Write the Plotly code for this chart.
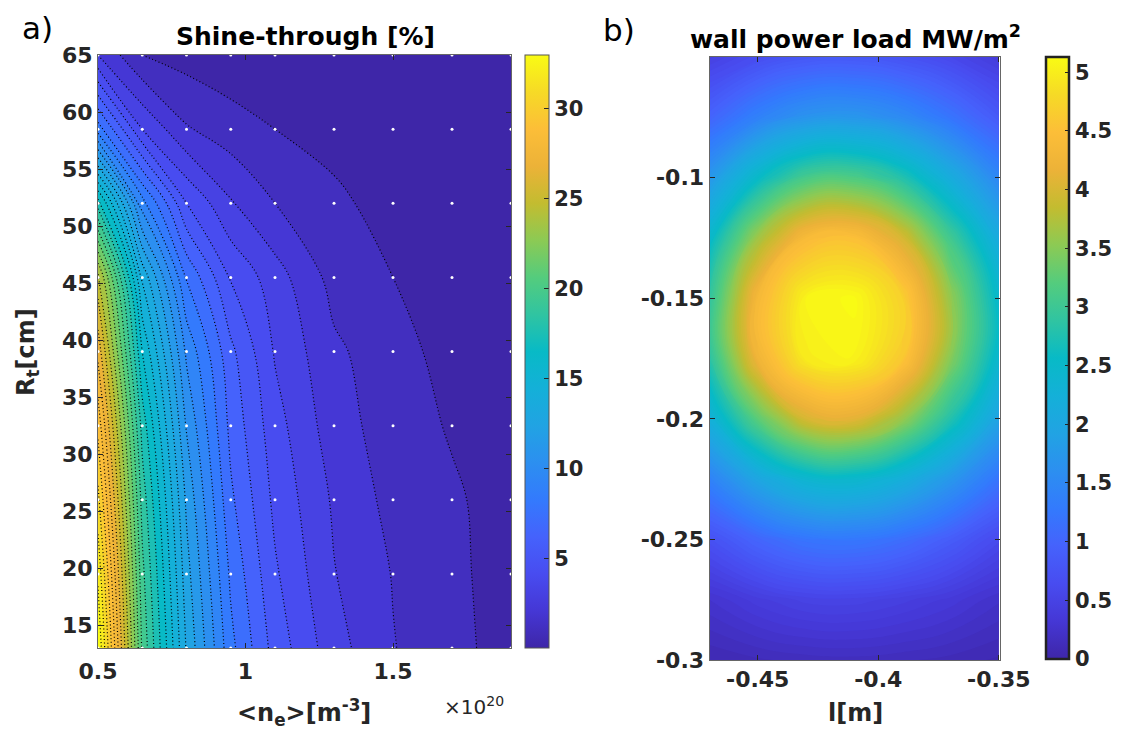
import plotly.graph_objects as go

# ---------------- data ----------------
N_E = [0.5, 0.65, 0.8, 0.95, 1.1, 1.3, 1.5, 1.7, 1.9]          # <n_e> [1e20 m^-3]
R_T = [13, 19.5, 26, 32.5, 39, 45.5, 52, 58.5, 65]               # R_t [cm]
SHINE = [  # rows follow R_T, columns follow N_E  (shine-through %)
    [33.0, 19.8, 12.9, 8.30, 5.60, 3.40, 2.05, 1.25, 0.65],
    [31.8, 19.3, 12.4, 7.80, 5.15, 3.05, 1.95, 1.20, 0.60],
    [30.3, 18.6, 11.8, 7.20, 4.75, 2.85, 1.67, 1.15, 0.55],
    [28.7, 17.6, 10.9, 6.70, 4.40, 2.45, 1.50, 0.90, 0.45],
    [26.7, 16.0, 9.80, 6.25, 3.90, 2.20, 1.37, 0.64, 0.35],
    [24.3, 13.8, 7.90, 4.90, 3.45, 1.63, 1.00, 0.50, 0.30],
    [17.5, 9.40, 5.00, 3.10, 2.00, 1.30, 0.45, 0.30, 0.25],
    [8.50, 4.00, 2.10, 1.45, 1.00, 0.50, 0.30, 0.25, 0.20],
    [3.00, 1.00, 0.60, 0.33, 0.25, 0.20, 0.18, 0.16, 0.15],
]
SHINE_TICKS = [5, 10, 15, 20, 25, 30]
NE_TICKS = [0.5, 1, 1.5]
NE_TICKTEXT = ["0.5", "1", "1.5"]
RT_TICKS = [15, 20, 25, 30, 35, 40, 45, 50, 55, 60, 65]

L_M = [-0.47, -0.45, -0.43, -0.41, -0.39, -0.37, -0.35]          # l [m]
Z_M = [-0.30, -0.275, -0.25, -0.225, -0.20, -0.175, -0.15, -0.125, -0.10, -0.075, -0.05]
LOAD = [  # rows follow Z_M, columns follow L_M  (MW/m^2)
    [0.10, 0.14, 0.17, 0.18, 0.16, 0.13, 0.09],
    [0.30, 0.43, 0.52, 0.53, 0.47, 0.38, 0.26],
    [0.73, 1.03, 1.24, 1.27, 1.14, 0.90, 0.62],
    [1.42, 2.00, 2.41, 2.47, 2.21, 1.75, 1.22],
    [2.25, 3.25, 4.00, 4.10, 3.60, 2.80, 1.95],
    [2.85, 4.25, 4.98, 5.06, 4.60, 3.50, 2.45],
    [2.90, 4.35, 5.05, 5.12, 4.70, 3.58, 2.50],
    [2.50, 3.65, 4.40, 4.50, 4.00, 3.05, 2.12],
    [1.75, 2.55, 3.10, 3.15, 2.80, 2.15, 1.50],
    [1.00, 1.41, 1.70, 1.74, 1.56, 1.23, 0.86],
    [0.48, 0.68, 0.82, 0.84, 0.75, 0.60, 0.41],
]
LOAD_TICKS = [0, 0.5, 1, 1.5, 2, 2.5, 3, 3.5, 4, 4.5, 5]
LOAD_TICKTEXT = ["0", "0.5", "1", "1.5", "2", "2.5", "3", "3.5", "4", "4.5", "5"]
L_TICKS = [-0.45, -0.4, -0.35]
L_TICKTEXT = ["-0.45", "-0.4", "-0.35"]
Z_TICKS = [-0.3, -0.25, -0.2, -0.15, -0.1]
Z_TICKTEXT = ["-0.3", "-0.25", "-0.2", "-0.15", "-0.1"]

# ---------------- style ----------------
PARULA = [
    [0.0, "rgb(62,38,168)"], [0.0625, "rgb(69,55,213)"], [0.125, "rgb(72,76,240)"],
    [0.1875, "rgb(69,98,252)"], [0.25, "rgb(51,122,253)"], [0.3125, "rgb(44,143,240)"],
    [0.375, "rgb(33,163,227)"], [0.4375, "rgb(20,176,216)"], [0.5, "rgb(8,186,198)"],
    [0.5625, "rgb(48,196,161)"], [0.625, "rgb(84,204,125)"], [0.6875, "rgb(140,202,84)"],
    [0.75, "rgb(195,188,48)"], [0.8125, "rgb(236,178,56)"], [0.875, "rgb(252,190,56)"],
    [0.9375, "rgb(246,218,38)"], [1.0, "rgb(249,251,20)"],
]
FONT = "DejaVu Sans"
TICKCOL = "#262626"
W, H = 1122, 733
OFF = 8  # the page body margin shifts the figure by this many pixels


def px(x):
    return (x - OFF) / W


def py(y):
    return 1 - (y - OFF) / H


fig = go.Figure()

fig.add_trace(go.Contour(
    x=N_E, y=R_T, z=SHINE, colorscale=PARULA, zmin=0, zmax=33, zauto=False,
    contours=dict(start=1, end=32, size=1, coloring="fill"),
    line=dict(color="black", width=1.2, dash="1px,2.5px"),
    xaxis="x", yaxis="y", showscale=False, hoverinfo="skip",
))

fig.add_trace(go.Scatter(
    x=[n for r in R_T for n in N_E], y=[r for r in R_T for n in N_E],
    mode="markers", marker=dict(color="white", size=3), xaxis="x", yaxis="y",
    showlegend=False, hoverinfo="skip",
))

# continuous colour bar for panel a)
fig.add_trace(go.Scatter(
    x=[-10], y=[-10], mode="markers", xaxis="x", yaxis="y", showlegend=False,
    hoverinfo="skip",
    marker=dict(size=1, opacity=0, color=[0], cmin=0, cmax=33, colorscale=PARULA,
                showscale=True,
                colorbar=dict(x=px(525), xanchor="left", y=py(648), yanchor="bottom",
                              len=(648 - 55) / H, lenmode="fraction", thickness=24,
                              thicknessmode="pixels", xpad=0, ypad=0,
                              outlinecolor="#555555", outlinewidth=1,
                              tickvals=SHINE_TICKS, ticks="inside", ticklen=5,
                              tickcolor="#262626",
                              tickfont=dict(family=FONT, size=21, color=TICKCOL,
                                            weight="bold"))),
))

fig.add_trace(go.Contour(
    x=L_M, y=Z_M, z=LOAD, colorscale=PARULA, zmin=0, zmax=5.13, zauto=False,
    contours=dict(start=0.05, end=5.1, size=0.05, coloring="fill"),
    line=dict(width=0, smoothing=1.3),
    xaxis="x2", yaxis="y2", showscale=False, hoverinfo="skip",
))

# continuous colour bar for panel b)
fig.add_trace(go.Scatter(
    x=[10], y=[10], mode="markers", xaxis="x2", yaxis="y2", showlegend=False,
    hoverinfo="skip",
    marker=dict(size=1, opacity=0, color=[0], cmin=0, cmax=5.13, colorscale=PARULA,
                showscale=True,
                colorbar=dict(x=px(1046), xanchor="left", y=py(659), yanchor="bottom",
                              len=(659 - 57) / H, lenmode="fraction", thickness=23,
                              thicknessmode="pixels", xpad=0, ypad=0,
                              outlinecolor="#222222", outlinewidth=2.5,
                              tickvals=LOAD_TICKS, ticktext=LOAD_TICKTEXT,
                              ticks="inside", ticklen=5, tickcolor="#222222",
                              tickfont=dict(family=FONT, size=21, color=TICKCOL,
                                            weight="bold"))),
))

axis_common = dict(showgrid=False, zeroline=False, showline=True, linecolor="#666666",
                   linewidth=1, mirror="ticks", ticks="inside", ticklen=5,
                   tickcolor="#262626", automargin=False,
                   tickfont=dict(family=FONT, size=22, color=TICKCOL, weight="bold"))

fig.update_layout(
    template="none",
    width=W, height=H, paper_bgcolor="white", plot_bgcolor="white",
    margin=dict(l=0, r=0, t=0, b=0, pad=0, autoexpand=False), showlegend=False,
    xaxis=dict(domain=[px(98), px(511)], range=[0.5, 1.9], anchor="y",
               tickvals=NE_TICKS, ticktext=NE_TICKTEXT, ticklabelstandoff=4,
               **axis_common),
    yaxis=dict(domain=[py(648), py(55)], range=[13, 65], anchor="x",
               tickvals=RT_TICKS, **axis_common),
    xaxis2=dict(domain=[px(709.5), px(1000)], range=[-0.47, -0.3495], anchor="y2",
                tickvals=L_TICKS, ticktext=L_TICKTEXT, **axis_common),
    yaxis2=dict(domain=[py(660), py(57)], range=[-0.3, -0.05], anchor="x2",
                tickvals=Z_TICKS, ticktext=Z_TICKTEXT, **axis_common),
)

ann = [
    dict(text="a)", x=px(37), y=py(28), font=dict(family=FONT, size=31, color="black")),
    dict(text="b)", x=px(619), y=py(30), font=dict(family=FONT, size=31, color="black")),
    dict(text="Shine-through [%]", x=px(305), y=py(36),
         font=dict(family=FONT, size=25, color="black", weight="bold")),
    dict(text="wall power load MW/m<sup>2</sup>", x=px(855), y=py(38),
         font=dict(family=FONT, size=25, color="black", weight="bold")),
    dict(text="&lt;n<sub>e</sub>&gt;[m<sup>-3</sup>]", x=px(304), y=py(712),
         font=dict(family=FONT, size=24, color=TICKCOL, weight="bold")),
    dict(text="×10<sup>20</sup>", x=px(474), y=py(706),
         font=dict(family=FONT, size=20, color=TICKCOL)),
    dict(text="R<sub>t</sub>[cm]", x=px(28), y=py(352), textangle=-90,
         font=dict(family=FONT, size=24, color=TICKCOL, weight="bold")),
    dict(text="l[m]", x=px(855), y=py(713),
         font=dict(family=FONT, size=24, color=TICKCOL, weight="bold")),
]
for a in ann:
    a.update(xref="paper", yref="paper", showarrow=False, xanchor="center", yanchor="middle")
fig.update_layout(annotations=ann)

fig.write_html("out.html")
